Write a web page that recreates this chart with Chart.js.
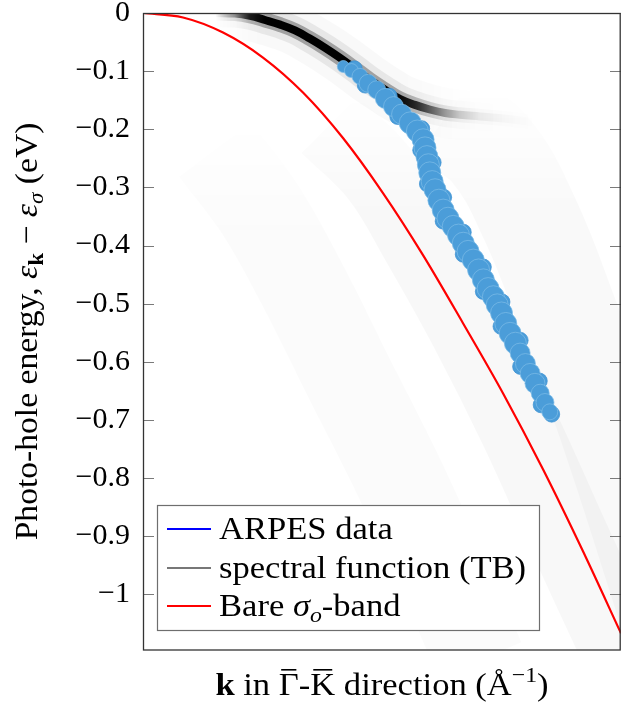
<!DOCTYPE html>
<html><head><meta charset="utf-8">
<script src="https://cdn.jsdelivr.net/npm/chart.js@4.4.1/dist/chart.umd.min.js"></script>
<style>html,body{margin:0;padding:0;background:#fff}canvas{display:block}</style>
</head><body>
<canvas id="c" width="621" height="704"></canvas>
<script>
// ---- axis ----
const yTicks = [0, -0.1, -0.2, -0.3, -0.4, -0.5, -0.6, -0.7, -0.8, -0.9, -1];
const kRange = [0, 1];
const eRange = [-1.0957, 0];

// ---- bare sigma_o band (red) ----
const bareK = [0, 0.0837, 0.1674, 0.2510, 0.3347, 0.4184, 0.5021, 0.5858, 0.6695, 0.7531, 0.8368, 0.9205, 1.0];
const bareE = [0, -0.0077, -0.0336, -0.0766, -0.1368, -0.2151, -0.3098, -0.4165, -0.5336, -0.6540, -0.7849, -0.9260, -1.0671];

// ---- spectral function (TB): sharp quasiparticle ridge ----
const specK = [0.151, 0.192, 0.224, 0.255, 0.287, 0.318, 0.349, 0.381, 0.412, 0.444, 0.475, 0.506, 0.538, 0.569, 0.600, 0.632, 0.663, 0.705, 0.760, 0.820];
const specE = [0, -0.001, -0.005, -0.012, -0.020, -0.030, -0.044, -0.060, -0.077, -0.096, -0.115, -0.132, -0.148, -0.158, -0.166, -0.172, -0.175, -0.178, -0.182, -0.188];
const specWeight = [0, 0.35, 0.85, 1, 1, 1, 1, 1, 1, 1, 1, 1, 0.95, 0.8, 0.55, 0.32, 0.16, 0.06, 0.02, 0];

// ---- spectral function: faint incoherent background ridges ----
const bg1K = [0.151, 0.245, 0.328, 0.433, 0.538, 0.642, 0.705];
const bg1E = [-0.235, -0.338, -0.459, -0.631, -0.803, -0.993, -1.113];
const bg2K = [0.391, 0.496, 0.579, 0.684, 0.789, 0.893, 1.0, 1.06];
const bg2E = [-0.192, -0.278, -0.390, -0.545, -0.717, -0.906, -1.096, -1.20];
const bg3K = [0.632, 0.726, 0.810, 0.893, 0.977, 1.10];
const bg3E = [-0.180, -0.235, -0.356, -0.529, -0.717, -1.03];

// ---- ARPES data ----
const arpesK = [0.419, 0.436, 0.454, 0.471, 0.489, 0.507, 0.524, 0.541, 0.559, 0.574, 0.586, 0.590, 0.594, 0.597, 0.600, 0.605, 0.611, 0.619, 0.628, 0.638, 0.649, 0.660, 0.670, 0.680, 0.691, 0.702, 0.712, 0.722, 0.733, 0.741, 0.750, 0.759, 0.768, 0.779, 0.789, 0.800, 0.810, 0.820, 0.831, 0.841, 0.851];
const arpesE = [-0.092, -0.099, -0.109, -0.121, -0.132, -0.147, -0.161, -0.174, -0.189, -0.203, -0.218, -0.232, -0.247, -0.261, -0.275, -0.290, -0.304, -0.322, -0.339, -0.353, -0.367, -0.382, -0.396, -0.410, -0.425, -0.442, -0.459, -0.474, -0.488, -0.502, -0.516, -0.534, -0.551, -0.568, -0.585, -0.603, -0.620, -0.637, -0.654, -0.670, -0.686];
const arpes2K = [0.442, 0.465, 0.515, 0.533, 0.583, 0.581, 0.607, 0.595, 0.629, 0.628, 0.670, 0.670, 0.712, 0.712, 0.751, 0.749, 0.789, 0.790, 0.829, 0.833, 0.855];
const arpes2E = [-0.096, -0.124, -0.143, -0.178, -0.199, -0.236, -0.257, -0.294, -0.317, -0.358, -0.377, -0.415, -0.437, -0.479, -0.497, -0.539, -0.563, -0.608, -0.633, -0.674, -0.690];
const arpesRadius = [6, 7, 8, 9, 9, 10, 10, 10, 11, 11, 11, 11, 11, 11, 11, 11, 11, 11, 11, 11, 11, 11, 11, 11, 11, 11, 11, 11, 11, 11, 11, 11, 11, 11, 10, 10, 10, 10, 9, 9, 8];

const legendLabels = ['ARPES data', 'spectral function (TB)', 'Bare σo-band'];

const pts = (xs, ys) => xs.map((x, i) => ({x, y: ys[i]}));
const SERIF = '"Liberation Serif","DejaVu Serif",serif';
const SX = 1.08;

function drawRich(ctx, parts, x, y, align, sx) {
  const s = sx || SX;
  let w = 0;
  parts.forEach(p => { ctx.font = p.f; p.w = ctx.measureText(p.t).width * s; w += p.w; });
  let cx = align === 'center' ? x - w / 2 : x;
  parts.forEach(p => {
    ctx.font = p.f;
    ctx.save(); ctx.translate(cx, y + (p.dy || 0)); ctx.scale(s, 1); ctx.fillText(p.t, 0, 0); ctx.restore();
    if (p.bar) ctx.fillRect(cx + p.w * 0.12, y - p.bar, p.w * 0.76, 1.6);
    cx += p.w;
  });
}

function ridgeGradient(alpha) {
  return c => {
    const ch = c.chart, xs = ch.scales.x;
    if (!ch.chartArea || !xs) return 'rgba(0,0,0,0)';
    const x0 = xs.getPixelForValue(specK[0]), x1 = xs.getPixelForValue(specK[specK.length - 1]);
    const g = ch.ctx.createLinearGradient(x0, 0, x1, 0);
    specK.forEach((k, i) => g.addColorStop((k - specK[0]) / (specK[specK.length - 1] - specK[0]),
      'rgba(0,0,0,' + (alpha * specWeight[i]).toFixed(4) + ')'));
    return g;
  };
}
function fadeTop(es, alpha) {
  return c => {
    const ch = c.chart, ys = ch.scales.y;
    if (!ch.chartArea || !ys) return 'rgba(0,0,0,0)';
    const y0 = ys.getPixelForValue(es[0]);
    const g = ch.ctx.createLinearGradient(0, y0 - 30, 0, y0 + 90);
    g.addColorStop(0, 'rgba(0,0,0,0)');
    g.addColorStop(1, 'rgba(0,0,0,' + alpha + ')');
    return g;
  };
}

const decor = {
  id: 'decor',
  afterDraw(chart) {
    const ctx = chart.ctx, a = chart.chartArea, ys = chart.scales.y;
    ctx.save();
    ctx.strokeStyle = '#7a7a7a'; ctx.lineWidth = 1;
    yTicks.forEach(v => {
      const py = Math.round(ys.getPixelForValue(v)) + 0.5;
      ctx.beginPath();
      ctx.moveTo(a.left, py); ctx.lineTo(a.left + 11, py);
      ctx.moveTo(a.right - 11, py); ctx.lineTo(a.right, py);
      ctx.stroke();
    });
    ctx.strokeStyle = '#333'; ctx.lineWidth = 1.3;
    ctx.strokeRect(a.left + 0.5, a.top + 0.5, a.right - a.left - 1.3, a.bottom - a.top - 0.5);
    // legend
    const lx = a.left + 14.5, ly = 505.5, lw = 382, lh = 125;
    ctx.fillStyle = '#fff'; ctx.fillRect(lx, ly, lw, lh);
    ctx.strokeStyle = '#6e6e6e'; ctx.lineWidth = 1.2; ctx.strokeRect(lx, ly, lw, lh);
    const cols = ['#0000ff', '#777777', '#ff0000'];
    const rowY = [529, 568, 606];
    cols.forEach((c, i) => {
      ctx.strokeStyle = c; ctx.lineWidth = 2;
      ctx.beginPath(); ctx.moveTo(lx + 9.5, rowY[i]); ctx.lineTo(lx + 53.5, rowY[i]); ctx.stroke();
    });
    ctx.fillStyle = '#000'; ctx.textBaseline = 'alphabetic'; ctx.textAlign = 'left';
    const F = '32px ' + SERIF, FI = 'italic 32px ' + SERIF, FS = 'italic 22px ' + SERIF;
    drawRich(ctx, [{t: legendLabels[0], f: F}], lx + 61.5, rowY[0] + 10, 'left');
    drawRich(ctx, [{t: legendLabels[1], f: F}], lx + 61.5, rowY[1] + 10, 'left');
    drawRich(ctx, [{t: 'Bare ', f: F}, {t: 'σ', f: FI}, {t: 'o', f: FS, dy: 6}, {t: '-band', f: F}], lx + 61.5, rowY[2] + 10, 'left');
    // x title
    const T = '32px ' + SERIF;
    drawRich(ctx, [
      {t: 'k', f: 'bold 32px ' + SERIF}, {t: ' in ', f: T}, {t: 'Γ', f: T, bar: 26}, {t: '-', f: T},
      {t: 'K', f: T, bar: 26}, {t: ' direction (Å', f: T}, {t: '−1', f: '22px ' + SERIF, dy: -13}, {t: ')', f: T}
    ], (a.left + a.right) / 2, 695, 'center');
    // y title
    ctx.translate(37, (a.top + a.bottom) / 2);
    ctx.rotate(-Math.PI / 2);
    drawRich(ctx, [
      {t: 'Photo-hole energy, ', f: T}, {t: 'ε', f: 'italic 32px ' + SERIF}, {t: 'k', f: 'bold 22px ' + SERIF, dy: 6},
      {t: ' − ', f: T}, {t: 'ε', f: 'italic 32px ' + SERIF}, {t: 'σ', f: 'italic 22px ' + SERIF, dy: 6}, {t: ' (eV)', f: T}
    ], 0, 0, 'center', 1.05);
    ctx.restore();
  }
};

const lineBase = {showLine: true, pointRadius: 0, fill: false, borderCapStyle: 'butt', borderJoinStyle: 'round', tension: 0.4, clip: 0};

new Chart(document.getElementById('c'), {
  type: 'scatter',
  data: {
    datasets: [
      {label: legendLabels[0], data: pts(arpesK, arpesE), pointRadius: arpesRadius, pointBorderWidth: 0.8,
        pointBackgroundColor: '#4b9dd9', pointBorderColor: 'rgba(125,188,232,0.9)', order: 0, clip: 0},
      {label: 'ARPES data (ring)', data: pts(arpes2K, arpes2E), pointRadius: 8, pointBorderWidth: 0.8,
        pointBackgroundColor: '#4b9dd9', pointBorderColor: 'rgba(60,145,210,0.9)', order: 1, clip: 0},
      Object.assign({}, lineBase, {label: legendLabels[2], data: pts(bareK, bareE), borderColor: '#ff0000', borderWidth: 2.2,
        tension: 0, cubicInterpolationMode: 'monotone', order: 2}),
      Object.assign({}, lineBase, {label: legendLabels[1], data: pts(specK, specE), borderWidth: 8, order: 3, borderColor: ridgeGradient(1)}),
      Object.assign({}, lineBase, {label: 'ridge-soft', data: pts(specK, specE), borderWidth: 15, order: 4, borderColor: ridgeGradient(0.3)}),
      Object.assign({}, lineBase, {label: 'ridge-halo', data: pts(specK, specE), borderWidth: 28, order: 5, borderColor: ridgeGradient(0.07)}),
      Object.assign({}, lineBase, {label: 'ridge-halo2', data: pts(specK, specE), borderWidth: 50, order: 6, borderColor: ridgeGradient(0.025)}),
      Object.assign({}, lineBase, {label: 'bg1', data: pts(bg1K, bg1E), borderWidth: 90, borderColor: fadeTop(bg1E, 0.016), order: 7}),
      Object.assign({}, lineBase, {label: 'bg2', data: pts(bg2K, bg2E), borderWidth: 80, borderColor: fadeTop(bg2E, 0.026), order: 8}),
      Object.assign({}, lineBase, {label: 'bg3', data: pts(bg3K, bg3E), borderWidth: 100, borderColor: fadeTop(bg3E, 0.022), order: 9})
    ]
  },
  options: {
    responsive: false, animation: false, devicePixelRatio: 1,
    layout: {padding: {top: 13, left: 0, right: 0, bottom: 0}, autoPadding: false},
    plugins: {legend: {display: false}, tooltip: {enabled: false}},
    scales: {
      x: {type: 'linear', min: kRange[0], max: kRange[1], ticks: {display: false}, grid: {display: false, drawTicks: false},
        border: {display: false}, afterFit: s => { s.height = 54; s.paddingLeft = 0; s.paddingRight = 0; }},
      y: {type: 'linear', min: eRange[0], max: eRange[1],
        afterBuildTicks: s => { s.ticks = yTicks.map(v => ({value: v})); },
        ticks: {color: '#000', padding: 13, font: {family: SERIF, size: 30},
          callback: v => v === 0 ? '0' : '−' + Math.abs(v).toFixed(1).replace(/\.0$/, '')},
        grid: {display: false, drawTicks: false}, border: {display: false},
        afterFit: s => { s.width = 143; s.paddingTop = 0; s.paddingBottom = 0; }}
    }
  },
  plugins: [decor]
});
</script>
</body></html>
